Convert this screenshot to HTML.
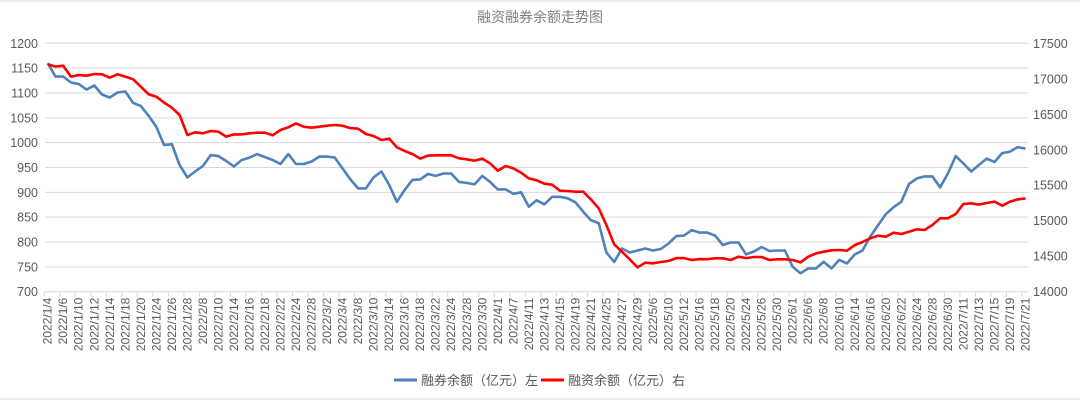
<!DOCTYPE html>
<html><head><meta charset="utf-8"><style>
body{margin:0;background:#fff;}
svg{display:block;font-family:"Liberation Sans","Noto Sans CJK SC",sans-serif;}
</style></head><body>
<svg id="chart" width="1080" height="410" viewBox="0 0 1080 410" xmlns="http://www.w3.org/2000/svg">
<rect x="0" y="0" width="1080" height="410" fill="#fff"/>
<line x1="0" y1="1" x2="1080" y2="1" stroke="#ececec" stroke-width="2"/>
<line x1="0" y1="399" x2="1080" y2="399" stroke="#ececec" stroke-width="2"/>
<text x="540" y="22" text-anchor="middle" font-size="14" fill="#7f7f7f">融资融券余额走势图</text>
<g id="grid"></g>
<g id="axes"></g>
<g id="series"></g>
<g>
  <g>
    <line x1="394" y1="380" x2="417" y2="380" stroke="#4f81bd" stroke-width="3"/>
    <text x="421" y="385" font-size="13" fill="#595959">融券余额（亿元）左</text>
  </g>
  <g>
    <line x1="541" y1="380" x2="564" y2="380" stroke="#ff0000" stroke-width="3"/>
    <text x="568" y="385" font-size="13" fill="#595959">融资余额（亿元）右</text>
  </g>
</g>
</svg>
<script>
const categories = ["2022/1/4","2022/1/6","2022/1/10","2022/1/12","2022/1/14","2022/1/18","2022/1/20","2022/1/24","2022/1/26","2022/1/28","2022/2/8","2022/2/10","2022/2/14","2022/2/16","2022/2/18","2022/2/22","2022/2/24","2022/2/28","2022/3/2","2022/3/4","2022/3/8","2022/3/10","2022/3/14","2022/3/16","2022/3/18","2022/3/22","2022/3/24","2022/3/28","2022/3/30","2022/4/1","2022/4/7","2022/4/11","2022/4/13","2022/4/15","2022/4/19","2022/4/21","2022/4/25","2022/4/27","2022/4/29","2022/5/6","2022/5/10","2022/5/12","2022/5/16","2022/5/18","2022/5/20","2022/5/24","2022/5/26","2022/5/30","2022/6/1","2022/6/6","2022/6/8","2022/6/10","2022/6/14","2022/6/16","2022/6/20","2022/6/22","2022/6/24","2022/6/28","2022/6/30","2022/7/11","2022/7/13","2022/7/15","2022/7/19","2022/7/21"];
const shortBalance = [1160,1133,1133,1121,1118,1107,1115,1097,1091,1101,1103,1080,1074,1054,1032,995,997,955,930,942,953,975,973,963,952,965,970,977,971,965,957,977,957,957,962,972,972,970,948,926,908,908,930,942,915,881,905,925,926,937,933,938,938,921,919,916,933,921,906,906,897,900,871,884,876,891,891,888,880,861,844,838,779,760,787,779,783,787,783,786,797,812,813,824,819,819,813,794,799,799,775,781,790,782,783,783,750,737,747,747,760,747,764,757,775,783,811,834,856,870,881,917,928,932,932,910,938,973,958,942,955,968,961,979,982,991,988];
const marginBalance = [17204,17171,17185,17030,17054,17044,17068,17063,17016,17063,17030,16993,16889,16781,16748,16664,16593,16490,16208,16246,16232,16264,16255,16185,16217,16217,16232,16241,16241,16203,16279,16316,16372,16325,16311,16325,16339,16349,16339,16305,16297,16222,16194,16138,16157,16034,15983,15940,15875,15917,15922,15922,15922,15879,15865,15846,15875,15809,15705,15771,15738,15677,15597,15569,15522,15508,15423,15419,15409,15409,15301,15175,14940,14667,14564,14456,14343,14409,14400,14418,14432,14474,14474,14446,14460,14458,14470,14470,14446,14493,14474,14489,14489,14446,14456,14456,14446,14413,14493,14540,14564,14583,14587,14578,14658,14700,14752,14789,14775,14831,14813,14846,14879,14869,14940,15034,15034,15095,15236,15246,15227,15250,15269,15212,15269,15301,15315];
const leftTicks = [700,750,800,850,900,950,1000,1050,1100,1150,1200];
const rightTicks = [14000,14500,15000,15500,16000,16500,17000,17500];

const NS="http://www.w3.org/2000/svg";
const plotTop=43.3, plotBottom=291.7, plotLeft=45, plotRight=1028, x0=47.7;
const n = shortBalance.length;
const step = (1025.5 - x0)/(n-1);
function xPos(i){return x0 + i*step;}
function yLeft(v){return plotBottom - (v-700)/(1200-700)*(plotBottom-plotTop);}
function yRight(v){return plotBottom - (v-14000)/(17500-14000)*(plotBottom-plotTop);}
function mk(tag,attrs,parent){const e=document.createElementNS(NS,tag);for(const k in attrs)e.setAttribute(k,attrs[k]);parent.appendChild(e);return e;}

const grid=document.getElementById('grid'), axes=document.getElementById('axes'), series=document.getElementById('series');
leftTicks.forEach(v=>{
  const y=yLeft(v);
  if(v!==700){
    const g=mk('line',{x1:plotLeft,y1:y,x2:plotRight,y2:y,stroke:'#d9d9d9','stroke-width':1},grid);
    
    
  }
  const t=mk('text',{x:38,y:y+4.5,'text-anchor':'end','font-size':12.5,fill:'#595959'},axes);
  t.textContent=v;
  
  
});
rightTicks.forEach(v=>{
  const t=mk('text',{x:1033,y:yRight(v)+4.5,'font-size':12.5,fill:'#595959'},axes);
  t.textContent=v;
  
  
});
const base=mk('line',{x1:plotLeft,y1:plotBottom,x2:plotRight,y2:plotBottom,stroke:'#d9d9d9','stroke-width':1},axes);


categories.forEach((c,k)=>{
  const x=xPos(2*k);
  const tk=mk('line',{x1:x-3.5,y1:plotBottom,x2:x-3.5,y2:plotBottom+5,stroke:'#d9d9d9'},axes);
  
  
  const t=mk('text',{x:0,y:0,'text-anchor':'end','font-size':12,fill:'#595959',transform:`translate(${x+4},${plotBottom+6}) rotate(-90)`},axes);
  t.textContent=c;
  
  
});
function line(arr,yf,color,name){
  const d=arr.map((v,i)=>(i?'L':'M')+xPos(i).toFixed(1)+','+yf(v).toFixed(1)).join(' ');
  const p=mk('path',{d:d,fill:'none',stroke:color,'stroke-width':2.6,'stroke-linejoin':'round'},series);
  
  
}
line(shortBalance,yLeft,'#4f81bd','short-balance-line');
line(marginBalance,yRight,'#ff0000','margin-balance-line');
</script>
</body></html>
